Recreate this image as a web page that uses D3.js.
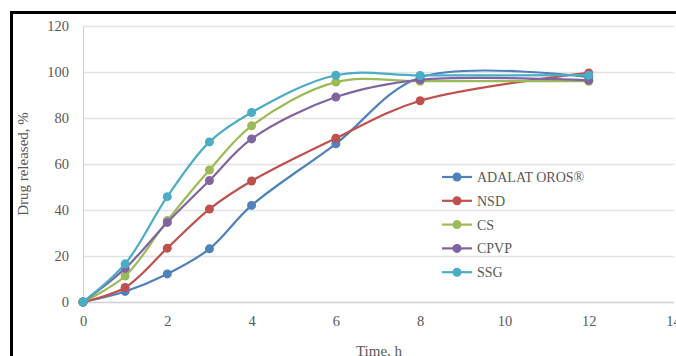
<!DOCTYPE html>
<html>
<head>
<meta charset="utf-8">
<script src="https://cdn.jsdelivr.net/npm/d3@7"></script>
<style>
  body { margin: 0; background: #fff; }
  svg { display: block; font-family: "Liberation Serif", "DejaVu Serif", serif; }
</style>
</head>
<body>
<svg width="676" height="356"></svg>
<script>
// time points (h)
var times = [0, 1, 2, 3, 4, 6, 8, 12];

// release values, %
var adalat = [0, 4.6, 12.2, 23.1, 42.0, 68.8, 97.6, 97.8];
var nsd    = [0, 6.3, 23.4, 40.4, 52.6, 71.2, 87.5, 99.6];
var cs     = [0, 11.3, 35.4, 57.4, 76.6, 95.6, 96.0, 96.0];
var cpvp   = [0, 14.6, 34.6, 52.8, 70.9, 89.1, 96.6, 96.4];
var ssg    = [0, 16.6, 45.8, 69.6, 82.4, 98.6, 98.5, 98.6];

var seriesNames = ["ADALAT OROS®", "NSD", "CS", "CPVP", "SSG"];
var seriesValues = [adalat, nsd, cs, cpvp, ssg];
var colors = ["#4f81bd", "#c0504d", "#9bbb59", "#8064a2", "#4bacc6"];

var xTicks = [0, 2, 4, 6, 8, 10, 12, 14];
var yTicks = [0, 20, 40, 60, 80, 100, 120];

var svg = d3.select("svg");
var width = 676, height = 356;

// outer frame (only the top & left edges fall inside the picture)
svg.append("rect")
    .attr("x", 11.5).attr("y", 12.5)
    .attr("width", 700).attr("height", 400)
    .attr("fill", "none")
    .attr("stroke", "#000")
    .attr("stroke-width", 3);

var x = d3.scaleLinear().domain([0, 14]).range([83, 673]);
var y = d3.scaleLinear().domain([0, 120]).range([302, 26]);

// gridlines
svg.append("g").selectAll("line")
    .data(yTicks)
    .enter().append("line")
    .attr("x1", 83).attr("x2", 674)
    .attr("y1", function(d) { return Math.round(y(d)) + 0.5; })
    .attr("y2", function(d) { return Math.round(y(d)) + 0.5; })
    .attr("stroke", function(d) { return d === 0 ? "#d0d0d0" : "#e2e2e2"; })
    .attr("stroke-width", 1.5);

// y axis line
svg.append("line")
    .attr("x1", 83.5).attr("x2", 83.5)
    .attr("y1", y(120)).attr("y2", y(0))
    .attr("stroke", "#d0d0d0");

var yAxis = d3.axisLeft(y).tickValues(yTicks).tickSize(0).tickPadding(14);
var gy = svg.append("g").attr("transform", "translate(83,0)").call(yAxis);
gy.select(".domain").remove();
gy.selectAll("text")
    .attr("fill", "#595959")
    .style("font-size", "14.5px")
    .style("font-family", "Liberation Serif, serif");

var xAxis = d3.axisBottom(x).tickValues(xTicks).tickSize(0).tickPadding(14);
var gx = svg.append("g").attr("transform", "translate(0,302)").call(xAxis);
gx.select(".domain").remove();
gx.selectAll("text")
    .attr("fill", "#595959")
    .style("font-size", "14.5px")
    .style("font-family", "Liberation Serif, serif");

// axis titles
svg.append("text")
    .attr("transform", "translate(28,164) rotate(-90)")
    .attr("text-anchor", "middle")
    .attr("fill", "#595959")
    .style("font-size", "15px")
    .text("Drug released, %");

svg.append("text")
    .attr("x", 379).attr("y", 356)
    .attr("text-anchor", "middle")
    .attr("fill", "#595959")
    .style("font-size", "15px")
    .text("Time, h");

// lines
var line = d3.line()
    .x(function(d) { return x(d[0]); })
    .y(function(d) { return y(d[1]); })
    .curve(d3.curveCatmullRom.alpha(0.5));

var series = seriesValues.map(function(vals, i) {
    return {
        name: seriesNames[i],
        color: colors[i],
        points: times.map(function(t, j) { return [t, vals[j]]; })
    };
});

var sg = svg.append("g").selectAll("g")
    .data(series)
    .enter().append("g");

sg.append("path")
    .attr("d", function(d) { return line(d.points); })
    .attr("fill", "none")
    .attr("stroke", function(d) { return d.color; })
    .attr("stroke-width", 2.2);

sg.selectAll("circle")
    .data(function(d) { return d.points.map(function(p) { return { p: p, color: d.color }; }); })
    .enter().append("circle")
    .attr("cx", function(d) { return x(d.p[0]); })
    .attr("cy", function(d) { return y(d.p[1]); })
    .attr("r", 4.5)
    .attr("fill", function(d) { return d.color; });

// legend
var legend = svg.append("g").selectAll("g")
    .data(series)
    .enter().append("g")
    .attr("transform", function(d, i) { return "translate(442," + (177 + i * 23.8) + ")"; });

legend.append("line")
    .attr("x1", 0).attr("x2", 30)
    .attr("stroke", function(d) { return d.color; })
    .attr("stroke-width", 2.2);
legend.append("circle")
    .attr("cx", 15).attr("r", 4.5)
    .attr("fill", function(d) { return d.color; });
legend.append("text")
    .attr("x", 35).attr("dy", "0.35em")
    .attr("fill", "#595959")
    .style("font-size", "14px")
    .text(function(d) { return d.name; });
</script>
</body>
</html>
